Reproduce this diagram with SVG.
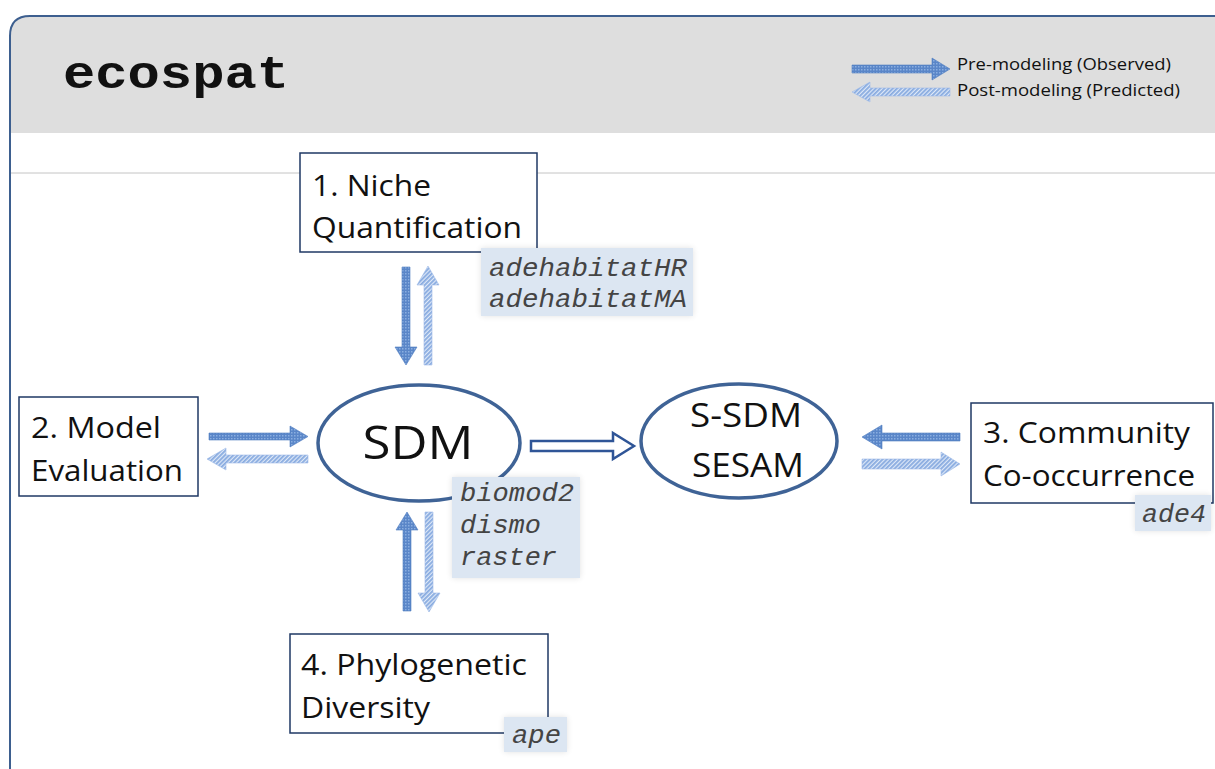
<svg xmlns="http://www.w3.org/2000/svg" width="1215" height="769" viewBox="0 0 1215 769">
  <defs>
    <pattern id="dots" width="3" height="3" patternUnits="userSpaceOnUse">
      <rect width="3" height="3" fill="#5a86c8"/>
      <rect x="0" y="0" width="1.5" height="1.5" fill="#8aaee0"/>
    </pattern>
    <pattern id="hatch" width="3" height="3" patternUnits="userSpaceOnUse" patternTransform="rotate(45)">
      <rect width="3" height="3" fill="#dfe9f8"/>
      <rect width="1.8" height="3" fill="#88abe0"/>
    </pattern>
    <filter id="glow" x="-20%" y="-30%" width="140%" height="160%">
      <feGaussianBlur in="SourceAlpha" stdDeviation="3"/>
      <feComponentTransfer><feFuncA type="linear" slope="0.12"/></feComponentTransfer>
      <feMerge><feMergeNode/><feMergeNode in="SourceGraphic"/></feMerge>
    </filter>
  </defs>
  <style>
    .node { fill: #ffffff; stroke: #1f3864; stroke-width: 1.5; }
    .ell { fill: #ffffff; stroke: #3f6396; stroke-width: 3.5; }
    .lbl { font-family: "Open Sans", "Noto Sans", "Liberation Sans", sans-serif; font-size: 29px; fill: #111111; }
    .big { font-family: "Open Sans", "Noto Sans", "Liberation Sans", sans-serif; fill: #111111; text-anchor: middle; }
    .pkgbox { fill: #dce6f2; filter: url(#glow); }
    .pkg { font-family: "Liberation Mono", "Courier New", monospace; font-style: italic; font-size: 26px; fill: #444444; }
    .leg { font-family: "Open Sans", "Noto Sans", "Liberation Sans", sans-serif; font-size: 16.5px; fill: #111111; }
    .solid { fill: url(#dots); stroke: #4f7cc0; stroke-width: 0.6; }
    .hatched { fill: url(#hatch); stroke: #9dbbe8; stroke-width: 0.6; }
  </style>

  <!-- frame and header -->
  <g id="frame">
    <path d="M10,769 L10,36 Q10,16 30,16 L1215,16 L1215,769" fill="#ffffff" stroke="none"/>
    <path d="M10,133 L10,36 Q10,16 30,16 L1215,16 L1215,133 Z" fill="#dedede"/>
    <line x1="10" y1="173" x2="1215" y2="173" stroke="#c4c4c4" stroke-width="1"/>
    <path d="M10,769 L10,36 Q10,16 30,16 L1216,16" fill="none" stroke="#3d5f8f" stroke-width="2"/>
    <text x="63" y="88" font-family="Liberation Mono, 'Courier New', monospace" font-weight="bold" font-size="46" textLength="226" lengthAdjust="spacingAndGlyphs" fill="#111111">ecospat</text>
  </g>

  <!-- legend -->
  <g id="legend">
    <polygon class="solid" points="852,65 932,65 932,58 950,69 932,80 932,73 852,73"/>
    <polygon class="hatched" points="950,88 870,88 870,82 852,92 870,102 870,96 950,96"/>
    <text class="leg" x="957" y="70" textLength="214" lengthAdjust="spacingAndGlyphs">Pre-modeling (Observed)</text>
    <text class="leg" x="957" y="96" textLength="223" lengthAdjust="spacingAndGlyphs">Post-modeling (Predicted)</text>
  </g>

  <!-- connectors -->
  <g id="connectors">
    <!-- Niche <-> SDM -->
    <polygon class="solid" points="402,267 410,267 410,347 417,347 406,365 395,347 402,347"/>
    <polygon class="hatched" points="424,365 432,365 432,285 439,285 428,266 417,285 424,285"/>
    <!-- Model Evaluation <-> SDM -->
    <polygon class="solid" points="209,433 290,433 290,426 308,436.5 290,447 290,440 209,440"/>
    <polygon class="hatched" points="308,455 226,455 226,448 207,459 226,470 226,463 308,463"/>
    <!-- SDM -> S-SDM hollow -->
    <polygon points="531,441 613,441 613,433 634,446 613,459 613,451 531,451" fill="#ffffff" stroke="#2f5597" stroke-width="2.5" stroke-linejoin="miter"/>
    <!-- Community <-> S-SDM -->
    <polygon class="solid" points="960,433 882,433 882,425 862,437 882,449 882,441 960,441"/>
    <polygon class="hatched" points="862,459 941,459 941,452 960,464 941,476 941,469 862,469"/>
    <!-- Phylo <-> SDM -->
    <polygon class="solid" points="403,611 411,611 411,530 418,530 407,512 396,530 403,530"/>
    <polygon class="hatched" points="425,512 433,512 433,593 440,593 429,612 418,593 425,593"/>
  </g>

  <!-- node 1 -->
  <g id="node-niche">
    <rect class="node" x="300" y="153" width="237" height="99"/>
    <text class="lbl" x="312" y="196" textLength="119" lengthAdjust="spacingAndGlyphs">1. Niche</text>
    <text class="lbl" x="312" y="238" textLength="210" lengthAdjust="spacingAndGlyphs">Quantification</text>
    <rect class="pkgbox" x="481" y="248" width="212" height="68"/>
    <text class="pkg" x="489" y="276" textLength="198" lengthAdjust="spacingAndGlyphs">adehabitatHR</text>
    <text class="pkg" x="489" y="307" textLength="198" lengthAdjust="spacingAndGlyphs">adehabitatMA</text>
  </g>

  <!-- node 2 -->
  <g id="node-eval">
    <rect class="node" x="19" y="397" width="179" height="99"/>
    <text class="lbl" x="31" y="438" textLength="130" lengthAdjust="spacingAndGlyphs">2. Model</text>
    <text class="lbl" x="31" y="481" textLength="152" lengthAdjust="spacingAndGlyphs">Evaluation</text>
  </g>

  <!-- SDM -->
  <g id="node-sdm">
    <ellipse class="ell" cx="419" cy="443" rx="101" ry="58"/>
    <text class="big" x="418" y="459" font-size="46" textLength="111" lengthAdjust="spacingAndGlyphs">SDM</text>
    <rect class="pkgbox" x="452" y="477" width="128" height="101"/>
    <text class="pkg" x="460" y="501" textLength="114" lengthAdjust="spacingAndGlyphs">biomod2</text>
    <text class="pkg" x="460" y="533" textLength="81" lengthAdjust="spacingAndGlyphs">dismo</text>
    <text class="pkg" x="460" y="565" textLength="97" lengthAdjust="spacingAndGlyphs">raster</text>
  </g>

  <!-- S-SDM -->
  <g id="node-ssdm">
    <ellipse class="ell" cx="739" cy="441" rx="98" ry="57"/>
    <text class="big" x="746" y="427" font-size="33" textLength="112" lengthAdjust="spacingAndGlyphs">S-SDM</text>
    <text class="big" x="748" y="477" font-size="33" textLength="112" lengthAdjust="spacingAndGlyphs">SESAM</text>
  </g>

  <!-- node 3 -->
  <g id="node-community">
    <rect class="node" x="971" y="403" width="242" height="100"/>
    <text class="lbl" x="983" y="443" textLength="207" lengthAdjust="spacingAndGlyphs">3. Community</text>
    <text class="lbl" x="983" y="486" textLength="212" lengthAdjust="spacingAndGlyphs">Co-occurrence</text>
    <rect class="pkgbox" x="1135" y="495" width="76" height="36"/>
    <text class="pkg" x="1142" y="522" textLength="64" lengthAdjust="spacingAndGlyphs">ade4</text>
  </g>

  <!-- node 4 -->
  <g id="node-phylo">
    <rect class="node" x="290" y="634" width="258" height="99"/>
    <text class="lbl" x="301" y="675" textLength="226" lengthAdjust="spacingAndGlyphs">4. Phylogenetic</text>
    <text class="lbl" x="301" y="718" textLength="129" lengthAdjust="spacingAndGlyphs">Diversity</text>
    <rect class="pkgbox" x="504" y="717" width="63" height="35"/>
    <text class="pkg" x="512" y="743" textLength="49" lengthAdjust="spacingAndGlyphs">ape</text>
  </g>
</svg>
